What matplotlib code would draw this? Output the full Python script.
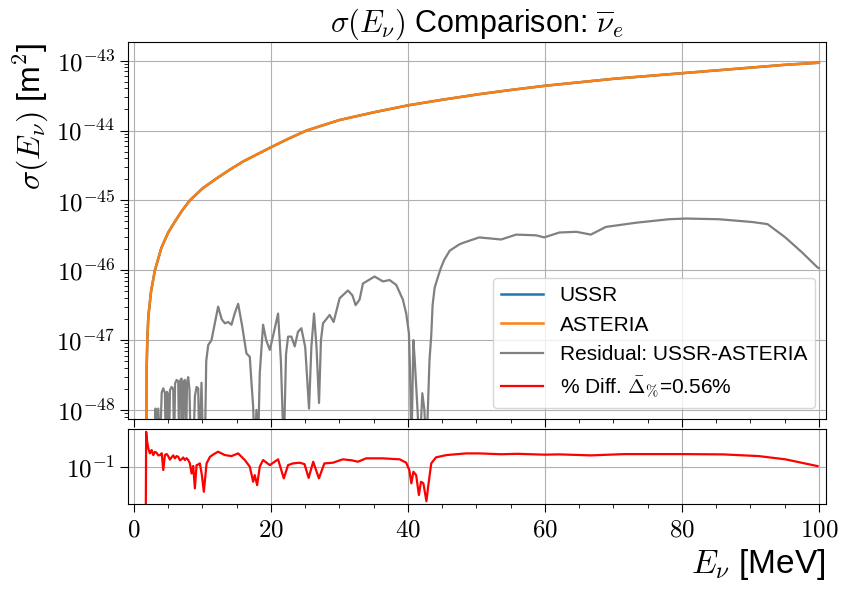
import matplotlib
matplotlib.use("Agg")
import matplotlib.pyplot as plt
import numpy as np
from matplotlib.ticker import FuncFormatter, MultipleLocator, NullLocator, FixedLocator

plt.rcParams['mathtext.fontset'] = 'cm'
plt.rcParams['font.family'] = ['Liberation Sans', 'DejaVu Sans']

# cross section (log10 of m^2)
E_sigma = [1.78, 1.81, 1.85, 1.95, 2.10, 2.50, 3.06, 4.0, 5.0, 6.0, 7.0, 8.16,
           10.0, 12.0, 14.0, 16.0, 18.0, 20.0, 22.5, 25.2, 30.0, 35.0, 40.0,
           45.0, 50.4, 55.0, 60.0, 65.0, 70.0, 75.0, 80.0, 85.0, 90.0, 95.0, 100.0]
log_sigma = [-49.5, -48.2, -47.4, -47.0, -46.66, -46.3, -46.0, -45.68, -45.46,
             -45.30, -45.15, -45.0, -44.83, -44.69, -44.56, -44.44, -44.34, -44.24,
             -44.12, -44.0, -43.85, -43.74, -43.64, -43.56, -43.48, -43.42, -43.36,
             -43.31, -43.26, -43.22, -43.18, -43.14, -43.10, -43.06, -43.03]

# residual USSR-ASTERIA (log10 of m^2)
E_resid = [3.00, 3.15, 3.30, 3.55, 3.79, 4.05, 4.28, 4.52, 4.64, 4.80, 5.00, 5.12,
           5.25, 5.49, 5.73, 5.86, 6.00, 6.22, 6.46, 6.60, 6.75, 6.95, 7.10, 7.25,
           7.43, 7.60, 7.75, 7.92, 8.10, 8.30, 8.65, 8.90, 9.14, 9.38, 9.55, 9.86,
           10.10, 10.35, 10.55, 10.84, 11.32, 11.80, 12.29, 12.80, 13.27, 13.75,
           14.24, 14.70, 15.21, 15.80, 16.42, 16.91, 17.15, 17.40, 17.64, 17.88,
           18.10, 18.37, 18.85, 19.30, 19.83, 20.40, 21.04, 21.45, 21.87, 22.20,
           22.50, 22.98, 23.47, 23.95, 24.44, 25.00, 25.56, 25.90, 26.29, 26.65,
           27.02, 27.30, 27.60, 28.57, 29.15, 30.03, 31.24, 31.90, 32.36, 32.94,
           33.43, 35.13, 36.35, 37.32, 38.29, 39.26, 39.75, 40.14, 40.30, 40.50,
           40.80, 41.00, 41.40, 41.70, 42.10, 42.40, 42.70, 43.15, 43.40, 43.60,
           43.90, 44.40, 44.80, 45.30, 46.10, 47.50, 48.00, 50.40, 53.60, 55.80,
           58.70, 59.90, 62.10, 64.60, 66.70, 68.90, 73.30, 78.10, 80.60, 85.40,
           90.30, 92.50, 95.10, 97.60, 99.80, 100.0]
log_resid = [-48.6, -47.98, -48.6, -47.98, -48.6, -47.75, -47.69, -47.76, -48.6,
             -47.74, -47.78, -48.6, -47.72, -47.67, -47.70, -48.6, -47.62, -47.57,
             -47.59, -48.6, -47.58, -47.55, -48.5, -47.60, -47.57, -48.6, -47.60,
             -47.53, -47.70, -48.6, -48.6, -47.80, -47.67, -47.69, -48.6, -47.61,
             -48.6, -48.6, -47.30, -47.07, -47.00, -46.76, -46.52, -46.70, -46.76,
             -46.74, -46.78, -46.62, -46.48, -46.80, -47.19, -47.24, -47.60, -47.95,
             -48.6, -48.0, -48.6, -47.47, -46.78, -47.00, -47.14, -46.90, -46.62,
             -47.30, -48.6, -47.20, -46.95, -46.95, -47.09, -46.88, -46.83, -47.10,
             -47.98, -47.10, -46.62, -47.10, -47.90, -47.00, -46.76, -46.64, -46.74,
             -46.40, -46.29, -46.36, -46.50, -46.42, -46.19, -46.09, -46.16, -46.14,
             -46.21, -46.42, -46.62, -46.90, -47.40, -48.6, -47.00, -47.30, -48.0,
             -48.6, -47.76, -48.0, -48.6, -47.28, -46.94, -46.50, -46.25, -46.09,
             -45.97, -45.85, -45.72, -45.63, -45.61, -45.53, -45.56, -45.49, -45.50,
             -45.53, -45.46, -45.45, -45.49, -45.38, -45.32, -45.27, -45.26, -45.27,
             -45.31, -45.34, -45.53, -45.75, -45.96, -45.97]

# percent difference (log10 of %)
E_pct = [1.72, 1.78, 1.90, 2.09, 2.33, 2.58, 2.82, 3.05, 3.30, 3.55, 3.79, 4.05,
         4.28, 4.52, 4.76, 5.00, 5.25, 5.49, 5.73, 5.98, 6.22, 6.46, 6.71, 6.95,
         7.19, 7.43, 7.68, 7.92, 8.15, 8.41, 8.65, 8.89, 9.14, 9.38, 9.62, 9.90,
         10.20, 10.60, 11.10, 11.70, 12.29, 13.27, 14.24, 15.21, 16.18, 16.91,
         17.40, 17.64, 17.98, 18.37, 18.85, 19.83, 21.04, 21.87, 22.50, 23.20,
         24.20, 24.90, 25.50, 26.17, 27.00, 27.80, 29.05, 30.50, 31.80, 32.70,
         33.90, 36.30, 38.80, 39.75, 40.20, 40.50, 40.80, 41.20, 41.60, 41.90,
         42.25, 42.70, 42.95, 43.40, 44.10, 45.60, 48.50, 50.40, 53.60, 56.00,
         59.90, 62.10, 66.70, 71.60, 80.00, 86.00, 91.20, 95.10, 99.80]
log_pct = [-5.0, 1.52, 0.9, 0.35, -0.01, 0.23, -0.13, 0.10, 0.04, -0.15, -0.13,
           0.0, -1.19, -0.13, -0.05, -0.20, -0.45, -0.29, -0.15, -0.36, -0.20,
           -0.25, -0.50, -0.43, -0.30, -0.48, -0.35, -0.48, -0.70, -1.43, -0.90,
           -2.49, -0.84, -0.80, -0.72, -1.5, -2.73, -0.72, -0.25, -0.05, 0.11,
           -0.13, -0.20, -0.01, -0.48, -0.95, -2.02, -1.55, -2.26, -0.95, -0.48,
           -0.84, -0.43, -1.78, -0.84, -0.72, -0.67, -0.77, -1.75, -0.60, -1.78,
           -0.72, -0.67, -0.43, -0.50, -0.60, -0.36, -0.36, -0.43, -0.67, -1.19,
           -2.13, -1.31, -1.55, -2.96, -2.02, -2.13, -3.40, -2.37, -0.72, -0.29,
           -0.13, -0.01, -0.01, -0.07, -0.04, -0.10, -0.08, -0.15, -0.06, -0.06,
           -0.08, -0.20, -0.43, -0.91]

sigma = 10.0 ** np.array(log_sigma)
resid = 10.0 ** np.array(log_resid)
pct = 10.0 ** np.array(log_pct)

fig = plt.figure(figsize=(8.47, 5.95), dpi=100)
ax = fig.add_axes([0.1517, 0.2963, 0.8232, 0.6326])
ax2 = fig.add_axes([0.1517, 0.1524, 0.8232, 0.1261], sharex=ax)

ax.plot(E_sigma, sigma, color='C0', lw=1.8, label='USSR')
ax.plot(E_sigma, sigma, color='C1', lw=1.8, label='ASTERIA')
ax.plot(E_resid, resid, color='gray', lw=1.6, label='Residual: USSR-ASTERIA')
ax.plot([], [], color='red', lw=1.6, label=r'% Diff. $\bar{\Delta}_{\%}$=0.56%')
ax2.plot(E_pct, pct, color='red', lw=1.6)

ax.set_yscale('log')
ax.set_ylim(7.5e-49, 1.83e-43)
ax.set_xlim(-0.8, 101)
ax2.set_yscale('log')
ax2.set_ylim(2.4e-4, 50)

logfmt = FuncFormatter(lambda v, p: r'$10^{%d}$' % round(np.log10(v)))
ax.yaxis.set_major_formatter(logfmt)
ax2.yaxis.set_major_locator(FixedLocator([0.1]))
ax2.yaxis.set_minor_locator(NullLocator())
ax2.yaxis.set_major_formatter(logfmt)
ax2.xaxis.set_major_locator(MultipleLocator(20))
ax2.xaxis.set_minor_locator(MultipleLocator(5))
ax2.xaxis.set_major_formatter(FuncFormatter(lambda v, p: r'$%d$' % v))

for a in (ax, ax2):
    a.grid(True, which='major', color='#b0b0b0', lw=0.8)
    a.tick_params(which='major', labelsize=18, length=6)
    a.tick_params(which='minor', length=3)
ax.tick_params(axis='x', labelbottom=False)

ax.set_title(r'$\sigma(E_\nu)$ Comparison: $\overline{\nu}_e$', fontsize=22)
ax.set_ylabel(r'$\sigma(E_\nu)$ [m$^2$]', fontsize=23, loc='top')
ax2.set_xlabel(r'$E_\nu$ [MeV]', fontsize=24, loc='right')
ax.legend(loc='lower right', fontsize=15)

fig.savefig('out.png', dpi=100)
